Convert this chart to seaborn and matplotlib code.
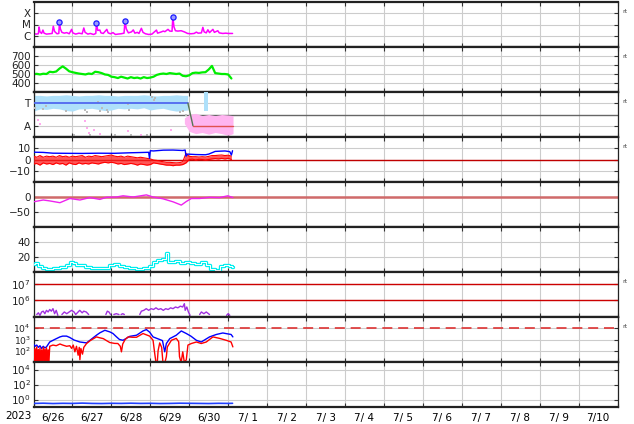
import numpy as np
import matplotlib
matplotlib.use("Agg")
import matplotlib.pyplot as plt
from matplotlib.ticker import NullLocator
import seaborn as sns

sns.set_style("white")
plt.rcParams['font.family'] = ['DejaVu Sans']

# ---------------- labels ----------------
day_labels = ["6/26", "6/27", "6/28", "6/29", "6/30", "7/ 1", "7/ 2", "7/ 3",
              "7/ 4", "7/ 5", "7/ 6", "7/ 7", "7/ 8", "7/ 9", "7/10"]
year_label = "2023"
xray_ticks = [1e-6, 1e-5, 1e-4]
xray_ticklabels = ["C", "M", "X"]
sector_ticks = [-1, 1]
sector_ticklabels = ["A", "T"]

# ---------------- data (time in hours from 6/26 00:00) ----------------
xray_h = [0, 1.5, 3.0, 3.4, 4.0, 5.0, 5.8, 6.5, 8, 10,
          11.5, 12.2, 13, 14.5, 15.6, 16.0, 16.6, 17.5, 19, 20.5,
          22, 23.5, 24.2, 26, 28, 30, 31, 31.8, 33.5, 35,
          37, 38.4, 38.8, 39.6, 40.9, 41.6, 43, 45.2, 46, 47.5,
          49, 50.5, 52, 54, 55.8, 56.4, 57.2, 58.5, 60.4, 61.5,
          62.5, 64, 65, 66.5, 67.5, 69, 71, 73, 75.8, 76.5,
          78.8, 80, 81, 82.9, 84, 85.4, 85.9, 86.6, 87.5, 89,
          91, 93, 95, 97, 99, 100.4, 101.5, 103.5, 104.4, 105.2,
          106.5, 107.5, 108.5, 110.6, 111.5, 113.6, 114.5, 116.7, 118.5, 120,
          122.7]
xray = [1.6e-6, 1.4e-6, 1.5e-6, 6.0e-6, 2.2e-6, 1.6e-6, 3.2e-6, 1.7e-6, 1.4e-6, 1.5e-6,
        1.6e-6, 7.0e-6, 2.4e-6, 1.5e-6, 1.6e-6, 1.6e-5, 4.0e-6, 2.0e-6, 1.7e-6, 1.9e-6,
        1.5e-6, 3.7e-6, 1.8e-6, 1.4e-6, 1.7e-6, 1.5e-6, 4.9e-6, 2.0e-6, 1.4e-6, 1.6e-6,
        1.3e-6, 1.6e-6, 1.3e-5, 3.0e-6, 3.2e-6, 1.8e-6, 1.6e-6, 3.7e-6, 1.8e-6, 1.5e-6,
        1.9e-6, 1.3e-6, 1.4e-6, 1.5e-6, 1.7e-6, 1.9e-5, 4.0e-6, 1.8e-6, 2.2e-6, 3.3e-6,
        1.7e-6, 2.0e-6, 1.6e-6, 4.6e-6, 2.0e-6, 1.5e-6, 1.3e-6, 1.4e-6, 3.2e-6, 1.7e-6,
        2.2e-6, 2.6e-6, 2.3e-6, 3.7e-6, 2.6e-6, 2.5e-6, 4.7e-5, 6.0e-6, 2.8e-6, 2.6e-6,
        2.8e-6, 2.2e-6, 1.6e-6, 1.5e-6, 1.6e-6, 2.1e-6, 1.7e-6, 1.8e-6, 5.6e-6, 2.2e-6,
        1.8e-6, 3.4e-6, 1.9e-6, 3.7e-6, 2.0e-6, 2.8e-6, 1.8e-6, 1.6e-6, 1.7e-6, 1.6e-6,
        1.6e-6]
flare_h = [15.9, 38.6, 56.4, 85.9]
flare = [1.6e-5, 1.3e-5, 1.9e-5, 4.7e-5]

hours_2h = list(range(0, 124, 2))
speed = [498, 502, 495, 503, 500,
         525, 520, 528, 560, 585, 560, 530, 520, 512, 505,
         500, 495, 505, 500, 525, 520, 510, 495, 490, 470,
         465, 455, 470, 460, 450, 465, 455, 460, 450, 465,
         455, 460, 470, 490, 500, 505, 500, 510, 505, 500,
         505, 480, 475, 485, 510, 515, 512, 518, 520, 550,
         590, 510, 505, 500, 500, 495, 450]

toward_h = [0, 4, 8, 12, 16, 20, 24, 28, 32, 36, 40, 44, 48, 52, 56, 60,
            64, 68, 72, 76, 80, 84, 88, 92, 95]
toward_hi = [1.7, 1.7, 1.65, 1.7, 1.7, 1.75, 1.7, 1.65, 1.7, 1.7, 1.75, 1.7, 1.7,
             1.65, 1.7, 1.7, 1.7, 1.75, 1.7, 1.65, 1.7, 1.7, 1.75, 1.7, 1.7]
toward_lo = [0.3, 0.5, 0.45, 0.55, 0.5, 0.35, 0.3, 0.5, 0.5, 0.55, 0.45, 0.35, 0.4,
             0.55, 0.5, 0.55, 0.5, 0.6, 0.4, 0.5, 0.55, 0.4, 0.3, 0.35, 0.4]
away_h = [93, 96, 100, 104, 108, 112, 116, 120, 123]
away_hi = [-0.3, 0.0, 0.1, -0.1, 0.0, -0.1, 0.0, -0.05, -0.1]
away_lo = [-0.8, -1.5, -1.7, -1.6, -1.75, -1.6, -1.7, -1.85, -1.7]
grey_pts_h = [1, 4, 6, 8, 20, 32, 33, 40, 41, 42, 45, 46, 58, 59, 73, 74, 75, 90, 92, 94,
              25, 35, 50, 60, 70]
grey_pts = [0.6, 1.0, 0.5, 0.8, 0.3, 0.4, 0.2, 1.1, 0.3, 0.6, 0.4, 0.2, 0.9, 0.4, 1.6, 1.3,
            1.5, 0.2, 0.3, 0.0, -1.85, -1.85, -1.85, -1.85, -1.85]
pink_pts_h = [3, 4, 32, 33, 34, 37, 41, 58, 66, 85]
pink_pts = [-0.5, -0.8, -0.6, -1.2, -1.6, -1.4, -1.7, -1.5, -1.8, -1.4]
cyan_pts_h = [106.5, 106.5, 106.5, 106.5, 106.5]
cyan_pts = [1.85, 1.5, 1.15, 0.8, 0.5]
sector_t_h = [0, 95.2]
sector_t = [1, 1]
sector_sw_h = [95.2, 98.3]
sector_sw = [1, -1]
sector_a_h = [98.3, 122.7]
sector_a = [-1, -1]

bt_h = [0, 6, 12, 20, 30, 40, 50, 60, 66, 71, 71.5, 72, 74, 80, 86, 92, 93.5, 94,
        95, 100, 106, 108, 112, 118, 121, 122, 122.7]
bt = [6.5, 6.3, 5.6, 5.5, 5.4, 5.6, 5.5, 6.0, 6.2, 6.4, 1.0, 7.8, 7.6, 8.3, 8.4, 8.0,
      8.4, 3.0, 4.8, 4.4, 4.2, 4.8, 7.2, 7.6, 7.0, 4.0, 7.8]
bz_hi = [3.0, 2.0, 3.5, 2.0, 3.0, 2.5, 3.0, 2.0, 3.5, 2.5, 3.0, 2.0, 3.0, 2.5, 3.0, 3.5,
         2.0, 3.0, 2.5, 3.5, 3.0, 2.5, 3.0, 3.5, 4.0, 3.0, 2.5, 3.0, 2.0, 3.0, 2.5, 2.0,
         1.5, 2.0, 1.5, 1.0, 0.5,
         -0.5, -0.8, -1.5, -2.0, -2.5, -2.5, -2.8, -3.0, -2.8, -2.0,
         5.5, 2.8, 2.5, 2.5, 2.2, 2.5, 2.2, 2.8, 3.5, 3.5, 3.8, 4.0, 3.5, 3.8, 3.0]
bz_lo = [-4.0, -3.5, -5.0, -3.0, -4.0, -3.5, -4.5, -3.0, -4.0, -3.5, -5.0, -3.0, -4.0,
         -4.5, -3.0, -4.0, -3.5, -4.0, -3.0, -3.5, -4.0, -3.0, -2.5, -3.0, -2.5, -3.0,
         -4.0, -3.5, -4.5, -4.0, -3.5, -4.0, -5.0, -4.0, -4.5, -5.0, -4.5,
         -3.0, -3.5, -4.0, -4.5, -5.0, -5.0, -5.5, -5.0, -5.0, -4.5,
         -3.0, 0.0, 0.3, -0.5, 0.2, 0.0, -0.5, 0.0, 0.5, 0.8, 0.5, 1.0, 0.5, 1.0, 0.0]

dst_h = [0, 6, 10, 16.3, 22.4, 28.6, 34.7, 40.9, 45, 51.2, 55.2, 61.4, 69.6, 73.7,
         79.8, 86, 91.1, 94.2, 97.3, 102.4, 108.5, 114.7, 119.8, 122.9]
dst = [-16, -10, -13, -19, -5, -10, -2, -8, -1, 0, 4, 0, 7, 0, -6, -16, -27, -15, -5,
       -5, -1, -2, 4, -2]

cyan_h = [0, 2, 4, 6, 10, 14, 18.3, 21.4, 23.4, 25.5, 27.5, 30.5, 33.6, 36.7, 40.8,
          45, 48, 51, 54, 57.3, 60.4, 65.5, 69.6, 72.7, 74.8, 77.8, 80.9, 82, 83.4, 86,
          89, 92, 95.2, 98.3, 101.4, 104.5, 107.6, 110.6, 113.7, 115.7, 118.8, 121.8, 122.9]
cyan = [11, 12, 8, 5, 4, 5, 7, 10, 14, 12, 9, 10, 7, 6, 5, 6, 10, 11, 8, 7, 6, 4, 5, 8,
        14, 16, 17, 26, 14, 13, 15, 12, 14, 12, 11, 13, 10, 4, 3, 8, 9, 8, 7]

nan = float("nan")
elec_h = [2, 3, 4, 5, 6, 7, 8, 9, 10, 11, 12, 13, 14, 15, 16,
          17.5, 19, 20.5, 22, 23.5, 25, 26, 27.5, 28.5, 30, 31, 32.5, 34, 35,
          44.6, 45.5, 46.5, 47.5, 48,
          49.5, 51, 52.7, 53,
          54, 55, 56, 60,
          65.5, 66.5, 68, 69.5, 71, 72.5, 74, 75.5, 77, 78.5, 80, 81.5, 83, 84.5, 86,
          87.5, 89, 90.5, 92, 93, 93.5, 94.5, 95.5, 96.5, 99,
          102.4, 103.5, 105, 106.5, 108.5, 110,
          119, 120, 121]
elec = [1.41e5, 1.78e5, 1.26e5, 2.0e5, 2.24e5, 1.58e5, 2.51e5, 2.0e5, 2.82e5, 2.24e5,
        3.16e5, 1.58e5, 2.51e5, 1.26e5, nan,
        1.41e5, 2.0e5, 1.58e5, 2.0e5, 2.51e5, 2.0e5, 1.41e5, 2.0e5, 2.51e5, 1.78e5,
        2.24e5, 2.0e5, 1.41e5, nan,
        1.41e5, 2.24e5, 2.0e5, 1.41e5, nan,
        1.41e5, 1.58e5, 1.41e5, nan,
        1.41e5, 1.58e5, 1.41e5, nan,
        1.41e5, 2.24e5, 2.51e5, 3.16e5, 2.51e5, 3.16e5, 2.82e5, 3.55e5, 2.82e5, 3.16e5,
        2.51e5, 3.16e5, 2.82e5, 3.55e5, 3.16e5, 3.98e5, 3.55e5, 4.47e5, 3.98e5, 6.31e5,
        2.51e5, 3.98e5, 2.0e5, 1.26e5, nan,
        1.41e5, 2.0e5, 1.58e5, 2.0e5, 1.41e5, nan,
        1.26e5, 1.58e5, 1.26e5]
elec_levels = [1e6, 1e7]

pb_h = [0, 1, 2, 3, 4, 5, 6, 7, 8, 10, 13, 16.3, 18, 20.4, 22.4, 25, 28.6, 32.7, 35,
        38.8, 41, 44, 47.1, 49, 51.2, 53, 55.2, 59.3, 63.5, 67.5, 69.6, 71.6, 73.7,
        77.8, 79.5, 80.9, 81.9, 84, 88, 91.1, 94.2, 97, 100.4, 103.4, 108.5, 112.7,
        116.7, 119.5, 121.8, 122.9]
pb = [400, 250, 320, 200, 280, 160, 250, 180, 220, 600, 1000, 1700, 2000, 2000, 1500,
      900, 600, 500, 900, 2400, 4000, 6600, 4700, 3400, 1700, 1000, 850, 1900, 2400,
      5750, 7600, 4500, 1700, 1000, 800, 80, 440, 1200, 2400, 5750, 3400, 2000, 850,
      600, 1700, 2800, 3800, 3200, 2800, 1700]
pr_h = [0, 0.5, 1, 1.5, 2, 2.5, 3, 3.5, 4, 4.5, 5, 5.5, 6, 6.5, 7, 7.5, 8, 8.5, 9, 9.5,
        10, 12, 14, 16.3, 18, 20.4, 22.4, 23.5, 24.5, 25.5,
        26.5, 27.5, 28.2, 28.6, 29.2, 30.2, 31, 32.7, 35, 38.8,
        41, 43, 45, 47, 50, 52, 53.5, 54.2, 55, 56.5,
        58.3, 61, 63.5, 67.5, 71.6, 73.7, 74.7, 75.5, 76.3, 76.8,
        77.8, 79, 79.8, 81, 81.9, 82.5, 85, 88, 89.5, 90,
        91, 92, 93, 94.2, 95.2, 97.3, 100.4, 103.4, 106.5, 110.6,
        114.7, 118.8, 121.8, 122.9]
pr = [200, 9, 150, 9, 220, 9, 130, 9, 180, 9, 120, 9, 200, 9, 140, 9, 180, 9, 120, 9,
      250, 320, 280, 400, 320, 250, 280, 160, 320, 80,
      250, 40, 200, 16, 160, 50, 200, 440, 800, 1700,
      1400, 1200, 800, 540, 450, 440, 250, 80, 400, 1000,
      1700, 1580, 1580, 3400, 2000, 850, 60, 9, 9, 100,
      500, 200, 9, 9, 30, 220, 850, 1260, 630, 30,
      9, 80, 9, 16, 320, 440, 600, 440, 600, 1700,
      1260, 850, 600, 220]
proton_level = 1e4

bot_h = [0, 6, 12, 18, 24, 30, 36, 42, 48, 54, 60, 66, 72, 78, 84, 90, 96, 102, 108,
         114, 120, 122.7]
bot = [0.30, 0.32, 0.29, 0.31, 0.30, 0.33, 0.30, 0.29, 0.31, 0.30, 0.32, 0.30, 0.31,
       0.29, 0.30, 0.32, 0.31, 0.30, 0.29, 0.31, 0.30, 0.31]

# ---------------- figure ----------------
W, H = 634, 424
fig = plt.figure(figsize=(W / 100, H / 100), dpi=100)
axes = fig.subplots(9, 1, sharex=True, gridspec_kw=dict(hspace=0))
fig.subplots_adjust(left=33.5 / W, right=617.5 / W, top=1 - 2 / H, bottom=1 - 407 / H)

TXT = '#222222'


def style(ax):
    ax.set_xlim(0, 360)
    ax.set_xticks(np.arange(0, 361, 24))
    ax.grid(True, which='major', color='#cccccc', lw=0.8)
    ax.set_axisbelow(True)
    ax.tick_params(axis='both', which='major', direction='in', length=3, width=0.8,
                   color='#333333', left=True, right=True, top=True, bottom=True,
                   labelsize=7.5, pad=2, labelcolor=TXT, labelbottom=False)
    ax.yaxis.set_minor_locator(NullLocator())
    for s in ['top', 'bottom']:
        ax.spines[s].set_linewidth(1.6)
        ax.spines[s].set_color('#222222')
    for s in ['left', 'right']:
        ax.spines[s].set_linewidth(0.9)
        ax.spines[s].set_color('#222222')
    ax.set_xlabel('')
    ax.set_ylabel('')


def line(ax, x, y, color, lw=1.0, **kw):
    sns.lineplot(x=x, y=y, ax=ax, color=color, lw=lw, estimator=None, sort=False,
                 errorbar=None, legend=False, **kw)


def seg_lines(ax, x, y, color, lw=1.0):
    x = np.asarray(x, float)
    y = np.asarray(y, float)
    breaks = list(np.where(np.isnan(y))[0]) + [len(y)]
    start = 0
    for b in breaks:
        if b - start > 1:
            line(ax, x[start:b], y[start:b], color, lw)
        start = b + 1


# Panel 1: X-ray
ax = axes[0]
ax.set_yscale('log')
ax.set_ylim(1e-7, 1e-3)
line(ax, xray_h, xray, '#ff00ff', 1.1)
sns.scatterplot(x=flare_h, y=flare, ax=ax, marker='o', s=14, color='#9a9aff',
                edgecolor='#1a1aff', linewidth=0.9, legend=False, zorder=5)
ax.set_yticks(xray_ticks)
ax.set_yticklabels(xray_ticklabels)

# Panel 2: speed
ax = axes[1]
ax.set_ylim(300, 800)
line(ax, hours_2h, speed, '#00ee00', 1.6)
ax.set_yticks([400, 500, 600, 700])

# Panel 3: sector
ax = axes[2]
ax.set_ylim(-2, 2)
ax.axhline(0, color='#666666', lw=1.0, zorder=1)
ax.fill_between(toward_h, toward_lo, toward_hi, color='#aee0fa', lw=0, zorder=2)
ax.fill_between(away_h, away_lo, away_hi, color='#ffb4f0', lw=0, zorder=2)
sns.scatterplot(x=grey_pts_h, y=grey_pts, ax=ax, marker='s', s=4, color='#bbbbbb',
                linewidth=0, legend=False, zorder=3)
sns.scatterplot(x=pink_pts_h, y=pink_pts, ax=ax, marker='s', s=4, color='#ffaaee',
                linewidth=0, legend=False, zorder=3)
sns.scatterplot(x=cyan_pts_h, y=cyan_pts, ax=ax, marker='s', s=5, color='#aee0fa',
                linewidth=0, legend=False, zorder=3)
line(ax, sector_t_h, sector_t, '#5068f0', 1.3, zorder=4)
line(ax, sector_sw_h, sector_sw, '#557755', 1.0, zorder=4)
line(ax, sector_a_h, sector_a, '#e05050', 1.0, zorder=4)
ax.set_yticks(sector_ticks)
ax.set_yticklabels(sector_ticklabels)

# Panel 4: Bt / Bz
ax = axes[3]
ax.set_ylim(-20, 20)
ax.axhline(0, color='#c00000', lw=1.0, zorder=1)
ax.fill_between(hours_2h, bz_lo, bz_hi, color='#ff2020', alpha=0.75, lw=0, zorder=3)
line(ax, hours_2h, bz_hi, '#ff0000', 0.8, zorder=3)
line(ax, hours_2h, bz_lo, '#ff0000', 0.8, zorder=3)
line(ax, bt_h, bt, '#0000ff', 1.0, zorder=4)
ax.set_yticks([-10, 0, 10])

# Panel 5: Dst
ax = axes[4]
ax.set_ylim(-100, 50)
ax.axhline(0, color='#d06a6a', lw=1.8, zorder=1)
line(ax, dst_h, dst, '#ee22ee', 1.0, zorder=3)
ax.set_yticks([-50, 0])

# Panel 6: cyan index
ax = axes[5]
ax.set_ylim(0, 60)
line(ax, cyan_h, cyan, '#00eeee', 2.4, drawstyle='steps-mid', zorder=3)
line(ax, cyan_h, cyan, '#ffffff', 0.7, drawstyle='steps-mid', zorder=4)
ax.set_yticks([20, 40])

# Panel 7: electrons
ax = axes[6]
ax.set_yscale('log')
ax.set_ylim(1e5, 5e7)
for lvl in elec_levels:
    ax.axhline(lvl, color='#cc0000', lw=1.0, zorder=2)
seg_lines(ax, elec_h, elec, '#a030e0', 1.0)
ax.set_yticks(elec_levels)

# Panel 8: protons
ax = axes[7]
ax.set_yscale('log')
ax.set_ylim(1e1, 1e5)
ax.axhline(proton_level, color='#dd3333', lw=1.2, dashes=(6, 3.5), zorder=2)
line(ax, pb_h, pb, '#0000ff', 1.0, zorder=3)
line(ax, pr_h, pr, '#ff0000', 1.0, zorder=4)
ax.set_yticks([1e2, 1e3, 1e4])

# Panel 9: bottom
ax = axes[8]
ax.set_yscale('log')
ax.set_ylim(1e-1, 1e5)
line(ax, bot_h, bot, '#2040ff', 1.2, zorder=3)
ax.set_yticks([1e0, 1e2, 1e4])

for ax in axes:
    style(ax)
axes[7].tick_params(axis='y', labelsize=6.6)

# bottom labels
ax = axes[-1]
ax.set_xticks(np.arange(12, 360, 24), minor=True)
ax.set_xticklabels(day_labels, minor=True)
ax.tick_params(axis='x', which='minor', length=0, labelbottom=True, labelsize=7.5,
               labelcolor='black', pad=4)
fig.text(18.5 / W, 1 - 416 / H, year_label, ha='center', va='center', fontsize=7.5,
         color='black')

for i in [0, 1, 2, 3, 6, 7]:
    axes[i].text(1.0128, 0.78, 'rt', transform=axes[i].transAxes, fontsize=4.5,
                 color='#444444', ha='center', va='center')

fig.savefig('out.png', dpi=100)
